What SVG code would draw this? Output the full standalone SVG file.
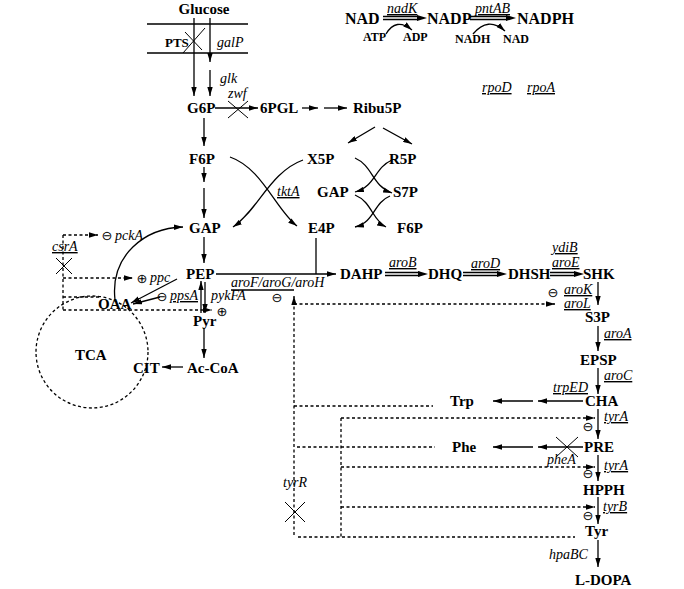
<svg xmlns="http://www.w3.org/2000/svg" width="684" height="589" viewBox="0 0 684 589">
<defs>
<style>
.m{font-family:"Liberation Serif","Times New Roman",serif;font-weight:bold;font-size:15px;fill:#000}
.b{font-size:16px}
.sm{font-size:12px}
.e{font-family:"Liberation Serif","Times New Roman",serif;font-style:italic;font-size:14px;fill:#000}
.u{text-decoration:underline}
.s{font-family:"DejaVu Sans",sans-serif;font-size:13px;text-anchor:middle;fill:#000}
.ln{stroke:#000;stroke-width:1.3;fill:none}
.ar{marker-end:url(#ah)}
.d{stroke-dasharray:3,2.5}
.x{stroke:#000;stroke-width:1;fill:none}
</style>
<marker id="ah" viewBox="0 0 10 6" refX="10" refY="3" markerWidth="9" markerHeight="5.5" markerUnits="userSpaceOnUse" orient="auto">
<path d="M0,0L10,3L0,6z" fill="#000" stroke="none"/>
</marker>
</defs>
<rect width="684" height="589" fill="#fff"/>

<g id="connectors">
<path class="ln" d="M147,24H248M147,53H248"/>
<path class="ln ar" d="M194,18V96"/>
<path class="ln ar" d="M210,18V62"/>
<path class="ln ar" d="M210,70V96"/>
<path class="x" d="M183,53L205,28M185,32L202,50"/>
<path class="ln ar" d="M215,108H258"/>
<path class="x" d="M228,101L248,118M248,101L228,118"/>
<path class="ln ar" d="M302,108H318"/>
<path class="ln ar" d="M324,108H347"/>
<path class="ln ar" d="M375,127L348,143"/>
<path class="ln ar" d="M383,128L412,144"/>
<path class="ln ar" d="M230,157C262,168 276,210 297,226"/>
<path class="ln ar" d="M303,160C270,172 258,210 233,227"/>
<path class="ln ar" d="M392,160C374,168 376,186 355,192"/>
<path class="ln ar" d="M355,158C373,166 372,186 392,193"/>
<path class="ln ar" d="M355,195C372,202 372,220 386,227"/>
<path class="ln ar" d="M390,196C373,203 375,222 355,227"/>
<path class="ln ar" d="M204,118V146"/>
<path class="ln ar" d="M204,167V182"/>
<path class="ln ar" d="M204,188V218"/>
<path class="ln ar" d="M204,237V263"/>
<path class="ln ar" d="M201,313V281"/>
<path class="ln ar" d="M205,282V313"/>
<path class="ln ar" d="M204,328V358"/>
<path class="ln ar" d="M183,367H162"/>
<path class="ln ar" d="M115,300C110,255 145,228 183,227"/>
<path class="ln ar" d="M177,279L131,303"/>
<path class="ln ar" d="M160,297L133,304"/>
<path class="ln ar" d="M216,274H336"/>
<path class="ln" d="M316,238V274"/>
<path class="ln" d="M231,290H294"/>
<path class="ln" d="M385,272.5H420M385,275.5H420"/>
<polygon points="418,271 428,274 418,277"/>
<path class="ln" d="M463,272.5H498M463,275.5H498"/>
<polygon points="497,271 507,274 497,277"/>
<path class="ln" d="M550,272.5H575M550,275.5H575"/>
<polygon points="574,271 584,274 574,277"/>
<path class="ln ar" d="M598,282V305"/>
<path class="ln ar" d="M598,326V351"/>
<path class="ln ar" d="M598,368V394"/>
<path class="ln ar" d="M598,409V439"/>
<path class="ln ar" d="M598,455V481"/>
<path class="ln ar" d="M598,497V524"/>
<path class="ln ar" d="M598,540V567"/>
<path class="ln ar" d="M583,401H538"/>
<path class="ln ar" d="M533,401H493"/>
<path class="ln ar" d="M583,447H538"/>
<path class="ln ar" d="M533,447H493"/>
<path class="x" d="M556,437L578,457M578,437L556,457"/>
<path class="ln" d="M383,16.5H418M383,19.5H418"/>
<polygon points="417,15 427,18 417,21"/>
<path class="ln" d="M470,16.5H507M470,19.5H507"/>
<polygon points="506,15 516,18 506,21"/>
<path class="ln ar" d="M386,34Q396,17 412,30"/>
<path class="ln ar" d="M473,34Q488,16 505,31"/>
<path class="ln d" d="M63,235V310"/>
<path class="ln d ar" d="M63,235H98"/>
<path class="ln d ar" d="M63,278H133"/>
<path class="ln d" d="M63,297H100"/>
<path class="ln d ar" d="M63,310H212"/>
<path class="x" d="M56,258L72,274M72,258L56,274"/>
<path class="ln d ar" d="M294,535V296"/>
<path class="ln d ar" d="M294,304H555"/>
<path class="ln d" d="M294,406H433"/>
<path class="ln d" d="M297,447H435"/>
<path class="ln d" d="M341,418V537"/>
<path class="ln d ar" d="M341,418H595"/>
<path class="ln d ar" d="M341,467H595"/>
<path class="ln d ar" d="M341,507H595"/>
<path class="ln d" d="M298,537H575"/>
<path class="x" d="M285,502L305,522M305,502L285,522"/>
<circle class="ln d" cx="92" cy="352" r="56"/>
</g>

<g id="Glucose"><text class="m" x="204" y="14" text-anchor="middle">Glucose</text></g>
<g id="PTS"><text class="m" style="font-size:13px" x="165" y="47">PTS</text></g>
<g id="galP"><text class="e" x="217" y="47">galP</text></g>
<g id="glk"><text class="e" x="220" y="83">glk</text></g>
<g id="zwf"><text class="e" x="228" y="98">zwf</text></g>
<g id="G6P"><text class="m" x="187" y="113">G6P</text></g>
<g id="6PGL"><text class="m" x="260" y="113">6PGL</text></g>
<g id="Ribu5P"><text class="m" x="353" y="113">Ribu5P</text></g>
<g id="F6P"><text class="m" x="189" y="164">F6P</text></g>
<g id="X5P"><text class="m" x="307" y="164">X5P</text></g>
<g id="R5P"><text class="m" x="389" y="164">R5P</text></g>
<g id="GAP2"><text class="m" x="317" y="197">GAP</text></g>
<g id="S7P"><text class="m" x="393" y="197">S7P</text></g>
<g id="tktA"><text class="e u" x="277" y="196">tktA</text></g>
<g id="GAP"><text class="m" x="189" y="233">GAP</text></g>
<g id="E4P"><text class="m" x="308" y="233">E4P</text></g>
<g id="F6P2"><text class="m" x="397" y="233">F6P</text></g>
<g id="pckA"><text class="s" x="107" y="240">⊖</text><text class="e" x="115" y="240">pckA</text></g>
<g id="csrA"><text class="e u" x="52" y="251">csrA</text></g>
<g id="ppc"><text class="s" x="142" y="283">⊕</text><text class="e" x="150" y="282">ppc</text></g>
<g id="PEP"><text class="m" x="186" y="279">PEP</text></g>
<g id="ppsA"><text class="s" x="162" y="301">⊖</text><text class="e u" x="170" y="300">ppsA</text></g>
<g id="pykFA"><text class="e" x="211" y="300">pykFA</text><text class="s" x="222" y="316">⊕</text></g>
<g id="aroFGH"><text class="e" x="231" y="287">aroF/aroG/aroH</text><text class="s" x="277" y="302">⊖</text></g>
<g id="OAA"><text class="m" x="98" y="309">OAA</text></g>
<g id="Pyr"><text class="m" x="193" y="326">Pyr</text></g>
<g id="TCA"><text class="m" x="75" y="360">TCA</text></g>
<g id="CIT"><text class="m" x="133" y="373">CIT</text></g>
<g id="AcCoA"><text class="m" x="187" y="373">Ac-CoA</text></g>
<g id="DAHP"><text class="m" x="340" y="279">DAHP</text></g>
<g id="aroB"><text class="e u" x="389" y="267">aroB</text></g>
<g id="DHQ"><text class="m" x="428" y="279">DHQ</text></g>
<g id="aroD"><text class="e u" x="471" y="268">aroD</text></g>
<g id="DHSH"><text class="m" x="508" y="279">DHSH</text></g>
<g id="ydiB"><text class="e u" x="552" y="252">ydiB</text><text class="e u" x="552" y="267">aroE</text></g>
<g id="SHK"><text class="m" x="583" y="279">SHK</text></g>
<g id="aroKL"><text class="s" x="553" y="297">⊖</text><text class="e u" x="564" y="294">aroK</text><text class="e u" x="564" y="308">aroL</text></g>
<g id="S3P"><text class="m" x="585" y="322">S3P</text></g>
<g id="aroA"><text class="e u" x="604" y="338">aroA</text></g>
<g id="EPSP"><text class="m" x="580" y="365">EPSP</text></g>
<g id="aroC"><text class="e u" x="604" y="380">aroC</text></g>
<g id="trpED"><text class="e u" x="553" y="392">trpED</text></g>
<g id="CHA"><text class="m" x="585" y="406">CHA</text></g>
<g id="Trp"><text class="m" x="450" y="406">Trp</text></g>
<g id="tyrA1"><text class="e u" x="604" y="421">tyrA</text><text class="s" x="588" y="431">⊖</text></g>
<g id="PRE"><text class="m" x="584" y="452">PRE</text></g>
<g id="Phe"><text class="m" x="452" y="452">Phe</text></g>
<g id="pheA"><text class="e" x="547" y="464">pheA</text></g>
<g id="tyrA2"><text class="e u" x="604" y="470">tyrA</text><text class="s" x="588" y="478">⊖</text></g>
<g id="HPPH"><text class="m" x="583" y="495">HPPH</text></g>
<g id="tyrB"><text class="e u" x="603" y="511">tyrB</text><text class="s" x="588" y="520">⊖</text></g>
<g id="Tyr"><text class="m" x="585" y="536">Tyr</text></g>
<g id="hpaBC"><text class="e" x="549" y="559">hpaBC</text></g>
<g id="LDOPA"><text class="m" x="575" y="585">L-DOPA</text></g>
<g id="tyrR"><text class="e" x="283" y="487">tyrR</text></g>
<g id="NAD"><text class="m b" x="345" y="24">NAD</text></g>
<g id="nadK"><text class="e u" x="387" y="13">nadK</text></g>
<g id="NADP"><text class="m b" x="427" y="24">NADP</text></g>
<g id="pntAB"><text class="e u" x="475" y="13">pntAB</text></g>
<g id="NADPH"><text class="m b" x="517" y="24">NADPH</text></g>
<g id="ATP"><text class="m sm" x="363" y="41">ATP</text></g>
<g id="ADP"><text class="m sm" x="403" y="41">ADP</text></g>
<g id="NADH"><text class="m sm" x="455" y="43">NADH</text></g>
<g id="NAD2"><text class="m sm" x="503" y="43">NAD</text></g>
<g id="rpoD"><text class="e u" x="482" y="92">rpoD</text></g>
<g id="rpoA"><text class="e u" x="527" y="92">rpoA</text></g>
</svg>
